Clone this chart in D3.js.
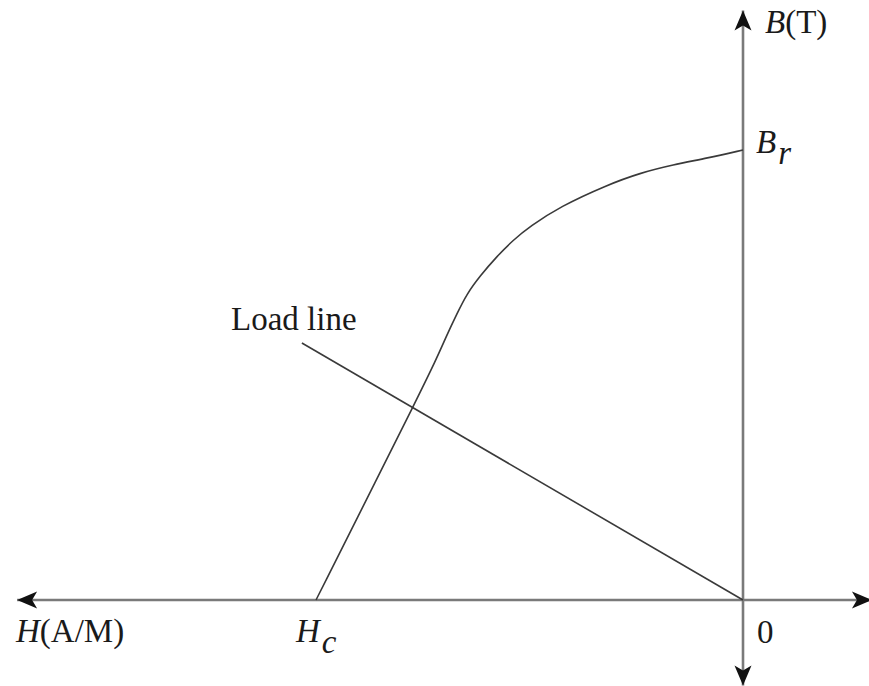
<!DOCTYPE html>
<html><head><meta charset="utf-8">
<script src="https://cdn.jsdelivr.net/npm/d3@7"></script>
<style>html,body{margin:0;padding:0;background:#fff;}svg{display:block;}</style>
</head><body>
<script>
// Demagnetization curve (H in arbitrary units, Hc = -100; B normalized, Br = 1)
const curveH = [-100, -85.0, -77.3, -71.7, -69.4, -67.0, -64.7, -61.6, -57.7, -53.8, -49.9, -42.9, -31.9, -24.1, -16.4, -8.4, 0];
const curveB = [0, 0.283, 0.429, 0.537, 0.588, 0.636, 0.680, 0.720, 0.763, 0.800, 0.830, 0.874, 0.922, 0.949, 0.967, 0.982, 1.0];
// Load line from its labelled end to origin
const loadH = [-103.3, 0];
const loadB = [0.571, 0];
// Axis extents
const hAxis = [-170, 30.2];
const bAxis = [-0.19, 1.31];
// Labels
const labelNames = ["H(A/M)", "Hc", "0", "B(T)", "Br", "Load line"];

const W = 869, H = 686;
const svg = d3.select("body").append("svg").attr("width", W).attr("height", H);
const x = d3.scaleLinear().domain([-100, 0]).range([316, 743]);
const y = d3.scaleLinear().domain([0, 1]).range([600, 150]);

const axisCol = "#7a7a7a", lineCol = "#3a3a3a";
const font = "'Liberation Serif', 'Times New Roman', serif";
const fs = 33;

// axes
svg.append("line").attr("x1", x(hAxis[0])).attr("x2", x(hAxis[1])).attr("y1", y(0)).attr("y2", y(0))
  .attr("stroke", axisCol).attr("stroke-width", 2.6);
svg.append("line").attr("x1", x(0)).attr("x2", x(0)).attr("y1", y(bAxis[0])).attr("y2", y(bAxis[1]))
  .attr("stroke", axisCol).attr("stroke-width", 2.6);

function arrow(px, py, angle) {
  svg.append("path")
    .attr("d", "M0,0 L-20,-8.5 L-15,0 L-20,8.5 Z")
    .attr("transform", `translate(${px},${py}) rotate(${angle})`)
    .attr("fill", "#111");
}
arrow(x(hAxis[0]), y(0), 180);
arrow(x(hAxis[1]), y(0), 0);
arrow(x(0), y(bAxis[1]), -90);
arrow(x(0), y(bAxis[0]), 90);

// curve
const pts = curveH.map((h, i) => [h, curveB[i]]);
svg.append("path").datum(pts)
  .attr("d", d3.line().x(d => x(d[0])).y(d => y(d[1])).curve(d3.curveBasis))
  .attr("fill", "none").attr("stroke", lineCol).attr("stroke-width", 1.6);

// load line
const lpts = loadH.map((h, i) => [h, loadB[i]]);
svg.append("path").datum(lpts)
  .attr("d", d3.line().x(d => x(d[0])).y(d => y(d[1])))
  .attr("fill", "none").attr("stroke", lineCol).attr("stroke-width", 1.6);

// labels
function txt(px, py) {
  return svg.append("text").attr("x", px).attr("y", py)
    .attr("font-family", font).attr("font-size", fs).attr("fill", "#1a1a1a");
}
// H(A/M)
let t = txt(16, 642);
t.append("tspan").attr("font-style", "italic").text("H");
t.append("tspan").text("(A/M)");
// Hc
t = txt(296, 642);
t.append("tspan").attr("font-style", "italic").text("H");
t.append("tspan").attr("font-style", "italic").attr("dx", 2).attr("dy", 11).text("c");
// 0
txt(757, 643).text(labelNames[2]);
// B(T)
t = txt(765, 33);
t.append("tspan").attr("font-style", "italic").text("B");
t.append("tspan").text("(T)");
// Br
t = txt(756, 153);
t.append("tspan").attr("font-style", "italic").text("B");
t.append("tspan").attr("font-style", "italic").attr("dx", 2).attr("dy", 11).text("r");
// Load line
txt(231, 330).text(labelNames[5]);
</script>
</body></html>
